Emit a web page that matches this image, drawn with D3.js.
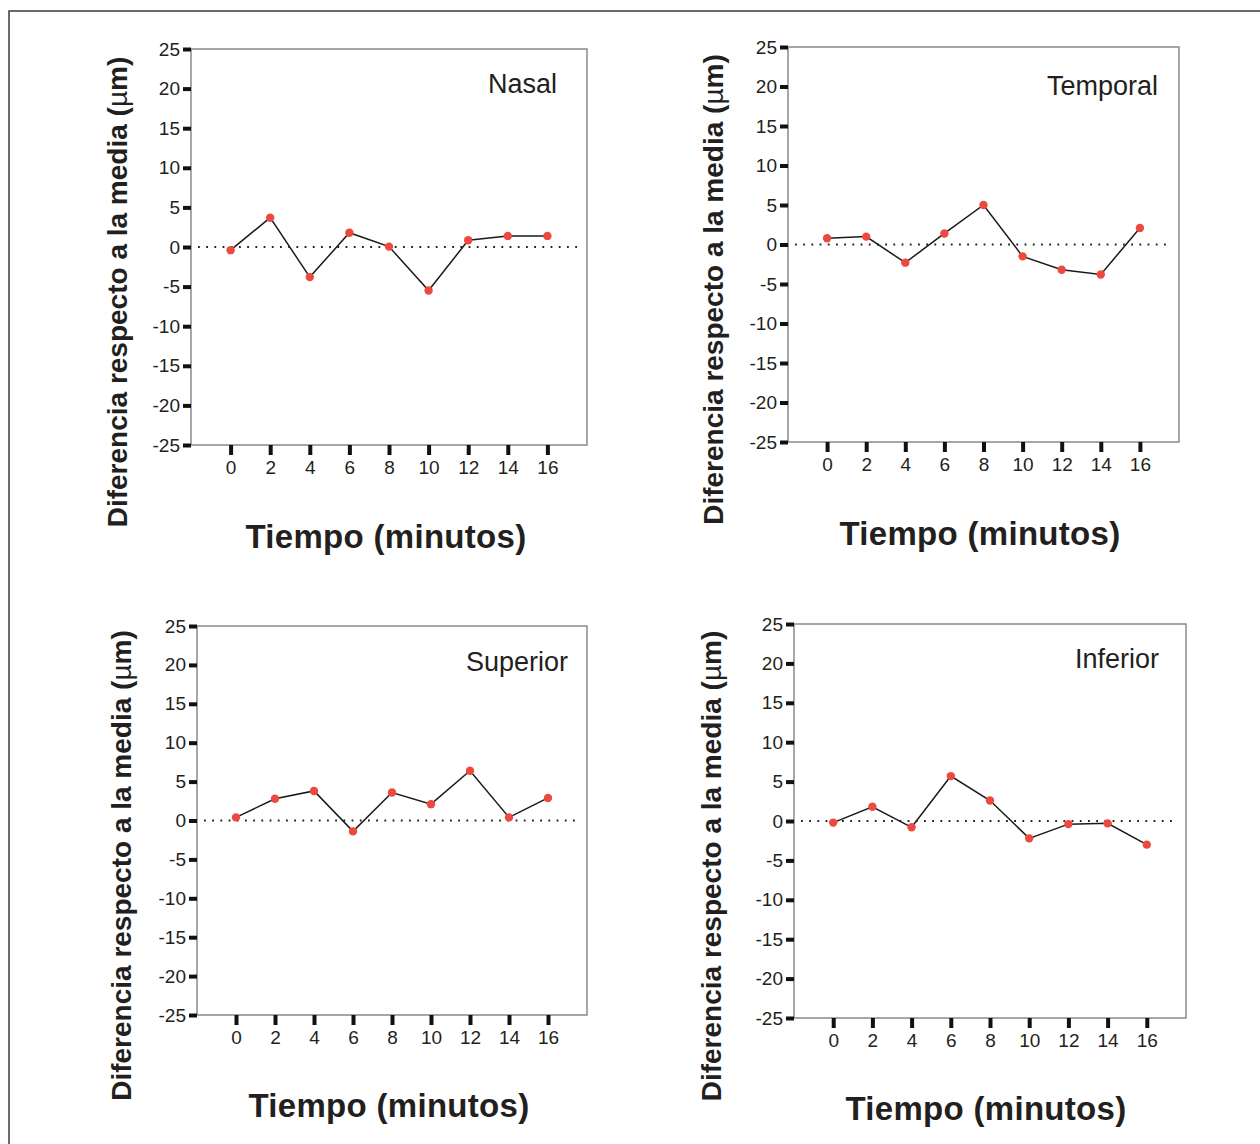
<!DOCTYPE html>
<html>
<head>
<meta charset="utf-8">
<script src="https://cdn.jsdelivr.net/npm/d3@7"></script>
<style>
  body { margin: 0; background: #fff; }
  text { font-family: "Liberation Sans", Arial, Helvetica, sans-serif; fill: #231f20; }
</style>
</head>
<body>
<svg id="chart"></svg>
<script>
// time points (minutes)
var minutes = [0, 2, 4, 6, 8, 10, 12, 14, 16];
var yTicks = [-25, -20, -15, -10, -5, 0, 5, 10, 15, 20, 25];

// difference from the mean (µm)
var nasal = [-0.4, 3.7, -3.8, 1.8, 0.05, -5.5, 0.85, 1.4, 1.4];
var temporal = [0.8, 1.0, -2.3, 1.4, 5.0, -1.5, -3.2, -3.8, 2.1];
var superior = [0.4, 2.8, 3.8, -1.4, 3.6, 2.1, 6.4, 0.4, 2.9];
var inferior = [-0.2, 1.8, -0.8, 5.7, 2.6, -2.2, -0.4, -0.3, -3.0];

var names = ["Nasal", "Temporal", "Superior", "Inferior"];
var series = [nasal, temporal, superior, inferior];

// layout of each panel's plot box (left, top, right, bottom) + label offsets
var boxes = [
  { l: 191, t: 49, r: 587, b: 445, tx: 30, ty: 44, lx: 117, bx: 386, by: 548 },
  { l: 788, t: 47, r: 1179, b: 442, tx: 21, ty: 48, lx: 713, bx: 980, by: 545 },
  { l: 197, t: 626, r: 587, b: 1015, tx: 19, ty: 45, lx: 121, bx: 389, by: 1117 },
  { l: 794, t: 624, r: 1186, b: 1018, tx: 27, ty: 44, lx: 711, bx: 986, by: 1120 }
];

var svgWidth = 1260, svgHeight = 1144;
var svg = d3.select("#chart")
  .attr("width", svgWidth)
  .attr("height", svgHeight);

// outer frame, runs off the right and bottom edges
svg.append("rect")
  .attr("x", 9).attr("y", 11)
  .attr("width", 1300).attr("height", 1200)
  .attr("fill", "none")
  .attr("stroke", "#3a3a3a")
  .attr("stroke-width", 1.5);

var fmt = function (d) { return String(d); };

series.forEach(function (vals, i) {
  var box = boxes[i];
  var data = minutes.map(function (m, j) { return { time: m, val: vals[j] }; });

  var x = d3.scaleLinear().domain([-2, 18]).range([box.l, box.r]);
  var y = d3.scaleLinear().domain([-25, 25]).range([box.b, box.t]);

  var g = svg.append("g");

  g.append("rect")
    .attr("x", box.l).attr("y", box.t)
    .attr("width", box.r - box.l).attr("height", box.b - box.t)
    .attr("fill", "none")
    .attr("stroke", "#8a8a8a")
    .attr("stroke-width", 1.5);

  var ya = g.append("g")
    .attr("transform", "translate(" + box.l + ",0)")
    .call(d3.axisLeft(y).tickValues(yTicks).tickFormat(fmt).tickSize(8).tickPadding(3));
  ya.select(".domain").remove();
  ya.selectAll(".tick line").attr("stroke", "#111").attr("stroke-width", 4);
  ya.selectAll(".tick text")
    .style("font-size", "19px")
    .style("font-family", "'Liberation Sans', Arial, sans-serif")
    .attr("fill", "#231f20");

  var xa = g.append("g")
    .attr("transform", "translate(0," + box.b + ")")
    .call(d3.axisBottom(x).tickValues(minutes).tickFormat(fmt).tickSize(10).tickPadding(6));
  xa.select(".domain").remove();
  xa.selectAll(".tick line").attr("stroke", "#111").attr("stroke-width", 4);
  xa.selectAll(".tick text")
    .style("font-size", "19px")
    .style("font-family", "'Liberation Sans', Arial, sans-serif")
    .attr("fill", "#231f20");

  // dotted zero reference
  g.append("line")
    .attr("x1", box.l + 7).attr("x2", box.r - 8)
    .attr("y1", y(0)).attr("y2", y(0))
    .attr("stroke", "#222")
    .attr("stroke-width", 1.8)
    .attr("stroke-dasharray", "1.8,6.4");

  var line = d3.line()
    .x(function (d) { return x(d.time); })
    .y(function (d) { return y(d.val); });

  g.append("path")
    .datum(data)
    .attr("fill", "none")
    .attr("stroke", "#1a1a1a")
    .attr("stroke-width", 1.5)
    .attr("d", line);

  g.selectAll("circle")
    .data(data)
    .enter().append("circle")
    .attr("cx", function (d) { return x(d.time); })
    .attr("cy", function (d) { return y(d.val); })
    .attr("r", 4.2)
    .attr("fill", "#ec4a3f");

  g.append("text")
    .attr("x", box.r - box.tx)
    .attr("y", box.t + box.ty)
    .attr("text-anchor", "end")
    .style("font-size", "27px")
    .text(names[i]);

  g.append("text")
    .attr("x", box.bx)
    .attr("y", box.by)
    .attr("text-anchor", "middle")
    .style("font-size", "33px")
    .style("font-weight", "bold")
    .style("letter-spacing", "0.3px")
    .text("Tiempo (minutos)");

  var yl = g.append("text")
    .attr("transform", "translate(" + box.lx + "," + ((box.t + box.b) / 2 + 45) + ") rotate(-90)")
    .attr("dy", "0.35em")
    .attr("text-anchor", "middle")
    .style("font-size", "28px")
    .style("font-weight", "bold");
  yl.append("tspan").text("Diferencia respecto a la media (");
  yl.append("tspan").style("font-weight", "normal").text("\u00b5");
  yl.append("tspan").text("m)");
});
</script>
</body>
</html>
